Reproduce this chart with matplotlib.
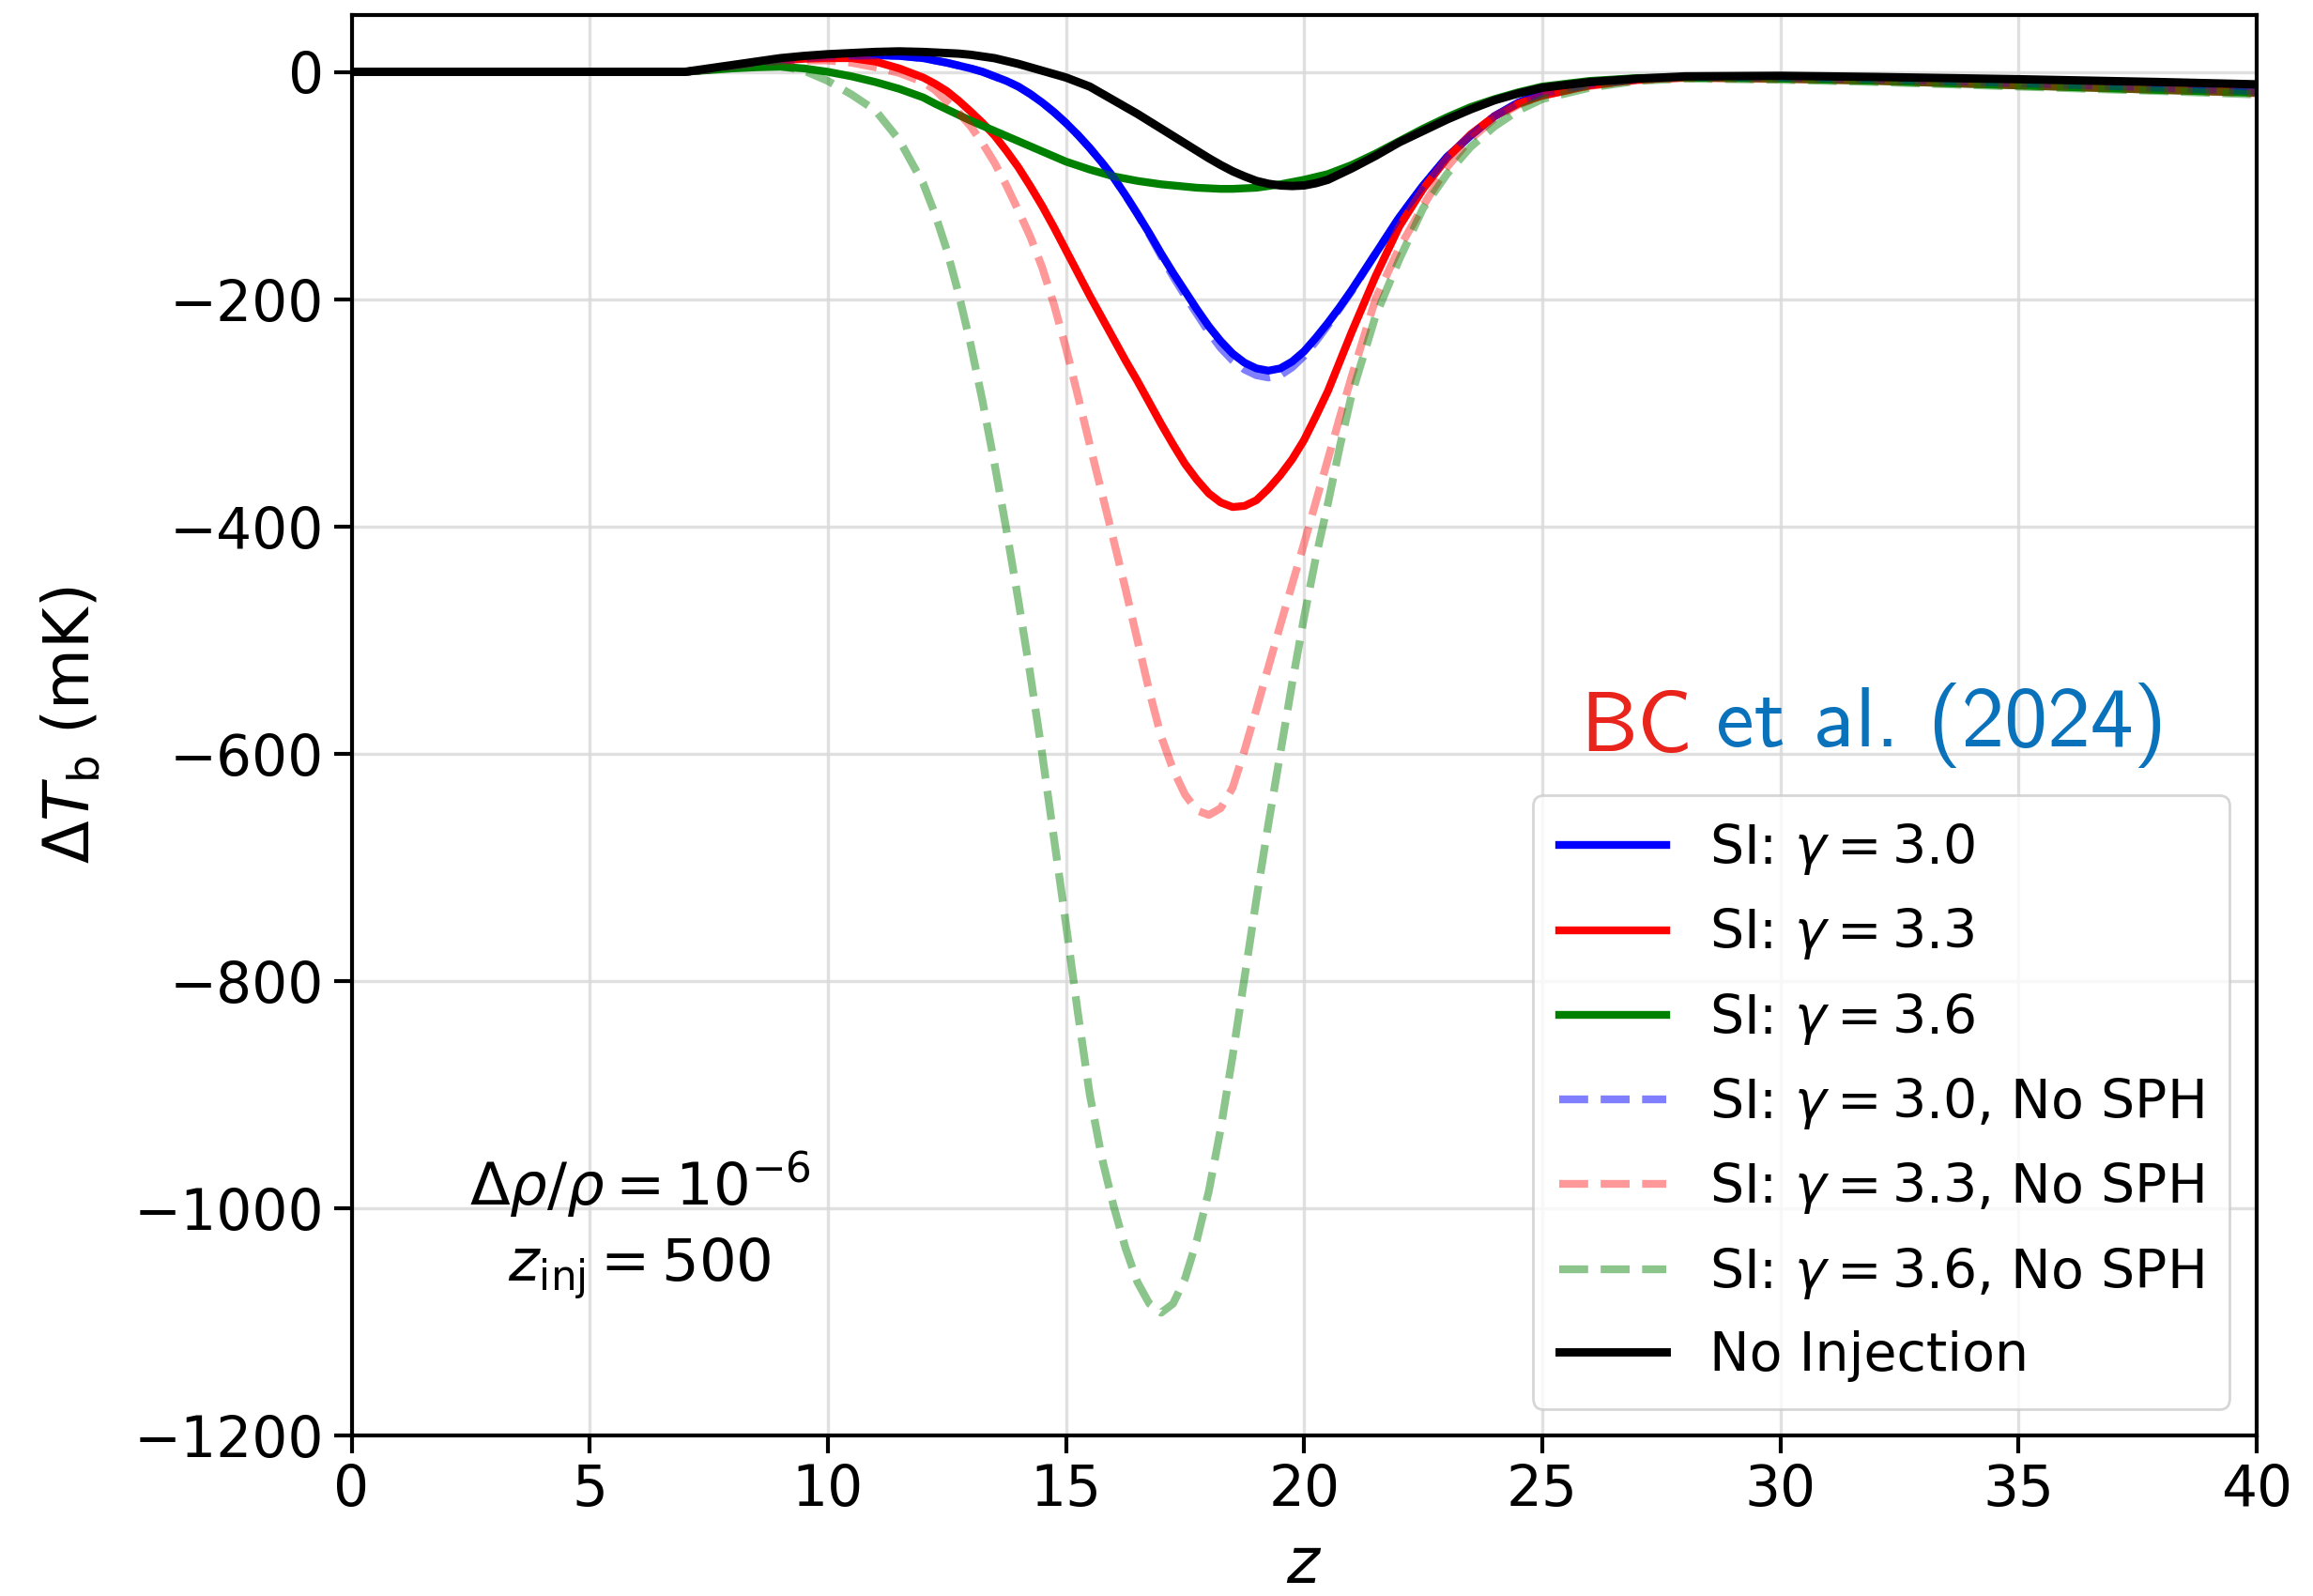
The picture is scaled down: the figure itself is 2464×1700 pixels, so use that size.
import matplotlib
matplotlib.use("Agg")
import matplotlib.pyplot as plt

# redshift grid shared by all curves
z = [0, 6, 7, 7.5, 8, 8.5, 9, 9.5, 10, 10.5, 11, 11.5, 12,
     12.25, 12.5, 12.75, 13, 13.25, 13.5, 13.75, 14, 14.25, 14.5, 14.75, 15,
     15.25, 15.5, 15.75, 16, 16.25, 16.5, 16.75, 17, 17.25, 17.5, 17.75, 18,
     18.25, 18.5, 18.75, 19, 19.25, 19.5, 19.75, 20, 20.25, 20.5, 20.75, 21,
     21.5, 22, 22.5, 23, 23.5, 24, 24.5, 25, 26, 27, 28, 30, 32, 35, 38, 40]

# Delta T_b (mK)
si_30 = [0, 0, 0, 2, 5, 8, 10, 12, 13.5, 14, 14.5, 14, 12,
         10, 8, 5.5, 3, 0, -4, -8, -13, -19.5, -27, -35.5, -45,
         -55.5, -67, -79.5, -93, -108.5, -125, -142, -160, -177, -193, -209, -224,
         -237, -248, -256, -261, -263, -261, -255, -246, -234, -221, -207, -192,
         -160, -128, -100, -75, -56, -39, -27, -19, -11, -6.5, -4.5, -5, -6.5, -10, -14, -17]
si_33 = [0, 0, 0, 2, 5, 8, 10, 11.5, 12, 12, 9, 3, -5,
         -10.5, -17, -25.5, -35, -45, -56, -69.5, -84, -100.5, -118, -137, -157,
         -177, -197, -216, -235, -254, -272, -291, -310, -328, -345, -359, -371,
         -379, -383, -382, -377, -367, -355, -341, -324, -303, -281, -255, -229,
         -180, -136, -103, -76, -55, -39, -28, -21, -12, -7, -5, -5.5, -7, -10.5, -14.5, -17.5]
si_36 = [0, 0, 0, 1.5, 3, 4, 4.5, 3, 0, -4, -9, -15, -22.5,
         -28, -33, -38, -43, -47.5, -52, -56.5, -61, -65.5, -70, -74.5, -79,
         -82.5, -86, -89, -92, -94, -96, -97.5, -99, -100, -101, -102, -102.5,
         -103, -103, -102.5, -102, -100.5, -99, -97, -95, -92.5, -90, -86, -82,
         -72, -61, -50, -40, -31, -24, -18, -13, -8, -5.5, -5, -6, -8, -12, -16, -18.5]
si_30_nosph = [0, 0, 0, 2, 5, 8, 10, 12, 13.5, 14, 14.5, 14, 12,
               10, 8, 5.5, 3, 0, -4, -8, -13, -19.5, -27, -35.5, -45,
               -55.5, -67, -79.5, -93, -108.5, -125, -143, -162, -180, -197, -213, -229,
               -243, -254, -262, -267, -269, -267, -260, -250, -237, -223, -208, -193,
               -160, -128, -100, -75, -56, -39, -27, -19, -11, -6.5, -4.5, -5, -6.5, -10, -14, -17]
si_33_nosph = [0, 0, 0, 2, 5, 8, 9.5, 10, 10, 8, 4, -1, -9,
               -16, -26, -36, -48, -63, -80, -100, -122, -145, -172, -205, -243,
               -285, -328, -370, -412, -455, -500, -545, -585, -614, -636, -650, -654,
               -648, -630, -597, -561, -524, -487, -451, -415, -378, -341, -304, -268,
               -200, -155, -118, -84, -59, -41, -29, -21, -12.5, -7.5, -5.5, -6.5, -8, -12, -16, -19]
si_36_nosph = [0, 0, 0, 2, 4, 5.5, 5, 1, -8, -20, -34, -60, -98,
               -125, -157, -196, -240, -290, -345, -403, -465, -530, -600, -675, -750,
               -828, -900, -955, -998, -1035, -1065, -1084, -1092, -1084, -1062, -1028, -985,
               -930, -866, -797, -728, -662, -600, -538, -480, -427, -380, -330, -284,
               -215, -165, -120, -90, -66, -48, -34, -24, -14, -8, -6, -7, -9, -13, -17, -20]
no_inj = [0, 0, 0, 3, 6, 9, 12, 14, 15.5, 16.5, 17.5, 18, 17.5,
          17, 16.5, 16, 15, 13.5, 12, 9.5, 7, 4, 1, -2, -5,
          -9, -13, -19, -25, -31, -37, -43.5, -50, -56.5, -63, -69.5, -76,
          -82, -87.5, -92, -96, -98.5, -100, -100.5, -100, -98, -95, -90, -85,
          -74, -62, -52, -42, -33, -25, -19, -14, -9, -6, -4, -3.5, -4.5, -6.5, -9, -11]

plt.rcParams['font.size'] = 20.5

fig = plt.figure(figsize=(12.32, 8.5), dpi=200)
ax = fig.add_axes([0.152, 0.1006, 0.8236, 0.89])

ax.plot(z, si_30, color='blue', lw=3, label=r'SI: $\gamma = 3.0$')
ax.plot(z, si_33, color='red', lw=3, label=r'SI: $\gamma = 3.3$')
ax.plot(z, si_36, color='green', lw=3, label=r'SI: $\gamma = 3.6$')
ax.plot(z, si_30_nosph, color='blue', ls='--', alpha=0.5, lw=3, label=r'SI: $\gamma = 3.0$, No SPH')
ax.plot(z, si_33_nosph, color='red', ls='--', alpha=0.4, lw=3, label=r'SI: $\gamma = 3.3$, No SPH')
ax.plot(z, si_36_nosph, color='green', ls='--', alpha=0.45, lw=3, label=r'SI: $\gamma = 3.6$, No SPH')
ax.plot(z, no_inj, color='black', lw=3.2, label='No Injection')

ax.set_xlim(0, 40)
ax.set_ylim(-1200, 50)
ax.set_xticks(range(0, 41, 5))
ax.set_yticks(range(-1200, 1, 200))
ax.grid(True, color='0.85', lw=1.2, alpha=0.8)
ax.tick_params(direction='out', length=7, width=1.5, labelsize=21.5)
for s in ax.spines.values():
    s.set_linewidth(1.5)

ax.set_xlabel(r'$z$', fontsize=24, labelpad=6)
ax.set_ylabel(r'$\Delta T_{\rm b}$ (mK)', fontsize=24, labelpad=12)

ax.text(6.05, -1015, '$\\Delta\\rho/\\rho = 10^{-6}$\n$z_{\\rm inj} = 500$',
        ha='center', va='center', multialignment='center', fontsize=22.5, linespacing=1.35)

t1 = ax.text(25.8, -598, 'BC', color='#e8241c', fontsize=33,
             va='baseline', family='cmss10')
ax.annotate('et al. (2024)', xy=(1, 0), xycoords=t1,
            xytext=(9, 0), textcoords='offset points', va='bottom',
            color='#0a72bb', fontsize=33, family='cmss10')

ax.legend(loc='lower right', labelspacing=0.55, borderpad=0.5)

fig.savefig('out.png', dpi=200)
